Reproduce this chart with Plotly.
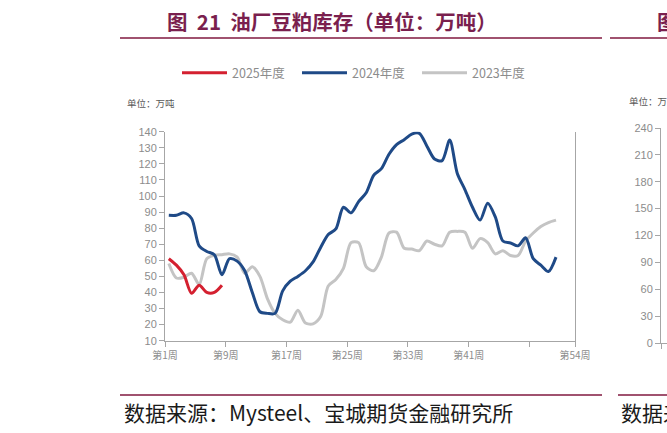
import plotly.graph_objects as go

# ---------------- data ----------------
weeks_2025 = list(range(1, 9))
stock_2025 = [61, 57, 51, 39.5, 44.5, 40, 40, 44.5]

weeks_2024 = list(range(1, 53))
stock_2024 = [88, 88, 89.5, 86, 69, 65.5, 63.5, 51, 61, 59.5,
              53.5, 40, 28, 27, 27, 41, 47, 50, 53.5, 59,
              68, 76, 79.5, 93, 89.5, 96.5, 102, 113, 117, 126,
              132, 135, 138.5, 139, 131, 123, 122, 134.8, 114, 104,
              93, 85, 95.5, 87, 72, 70.8, 69, 74, 61, 57,
              53, 62]

weeks_2023 = list(range(1, 53))
stock_2023 = [58, 49, 49.5, 52, 45, 61, 63, 63.5, 64, 62,
              52, 56, 50, 36, 27, 23, 21.5, 29, 21, 20.5,
              25, 44, 48, 55, 71, 71, 56, 53.5, 62, 77,
              77.5, 67.5, 67, 66, 72, 70, 69, 77.5, 78, 77.5,
              67.5, 73.5, 71, 64, 66, 63, 63, 72, 77, 81,
              83.5, 85]

tick_vals = [0.5, 8.5, 16.5, 24.5, 32.5, 40.5, 48.5, 54.5]
tick_text = ["第1周", "第9周", "第17周", "第25周", "第33周", "第41周", "", "第54周"]
y_ticks = list(range(10, 141, 10))

# neighbouring (cut-off) chart axis ticks
y2_ticks = list(range(0, 241, 30))

W, H = 667, 433
def px(x):
    return x / W
def py(y):
    return (H - y) / H

GRAY_TXT = "#8C8C8C"
AXIS = "#A6A6A6"
FONT = "Noto Sans CJK SC"

fig = go.Figure()
fig.add_trace(go.Scatter(x=weeks_2023, y=stock_2023, name="2023年度", mode="lines",
                         line=dict(color="#C4C4C4", width=3, shape="spline", smoothing=0.8)))
fig.add_trace(go.Scatter(x=weeks_2024, y=stock_2024, name="2024年度", mode="lines",
                         line=dict(color="#1F4A87", width=3, shape="spline", smoothing=0.8)))
fig.add_trace(go.Scatter(x=weeks_2025, y=stock_2025, name="2025年度", mode="lines",
                         line=dict(color="#D42030", width=3, shape="spline", smoothing=0.8)))

# invisible trace for the cut-off neighbouring chart axis
fig.add_trace(go.Scatter(x=[1], y=[0], xaxis="x2", yaxis="y2", mode="markers",
                         marker=dict(opacity=0), showlegend=False, hoverinfo="skip"))

fig.update_layout(
    width=W, height=H,
    margin=dict(l=0, r=0, t=0, b=0, autoexpand=False),
    paper_bgcolor="white", plot_bgcolor="white",
    font=dict(family=FONT, color=GRAY_TXT),
    showlegend=True,
    legend=dict(orientation="h", x=px(177), y=py(73), xanchor="left", yanchor="middle",
                font=dict(size=12.5, color=GRAY_TXT, family=FONT),
                traceorder="reversed", itemwidth=45,
                entrywidth=60, entrywidthmode="pixels",
                bgcolor="rgba(0,0,0,0)"),
    xaxis=dict(domain=[px(165), px(575)], range=[0.5, 54.5], automargin=False,
               tickmode="array", tickvals=tick_vals, ticktext=tick_text,
               showline=True, linecolor=AXIS, linewidth=1,
               ticks="outside", ticklen=5, tickcolor=AXIS,
               showgrid=False, zeroline=False,
               tickfont=dict(size=10, color=GRAY_TXT, family=FONT),
               anchor="y"),
    yaxis=dict(domain=[py(340.7), py(131.7)], range=[10, 140], automargin=False,
               tickmode="array", tickvals=y_ticks,
               showline=True, linecolor=AXIS, linewidth=1, mirror=True,
               ticks="outside", ticklen=5, tickcolor=AXIS,
               showgrid=False, zeroline=False,
               tickfont=dict(size=11, color=GRAY_TXT, family="Liberation Sans"),
               anchor="x"),
    xaxis2=dict(domain=[px(661), 1.0], range=[0.5, 54.5], automargin=False,
                tickmode="array", tickvals=[0.5], ticktext=["第1周"],
                showline=True, linecolor=AXIS, ticks="outside", ticklen=5, tickcolor=AXIS,
                showgrid=False, zeroline=False,
                tickfont=dict(size=10, color=GRAY_TXT, family=FONT),
                anchor="y2"),
    yaxis2=dict(domain=[py(343), py(128)], range=[0, 240], automargin=False,
                tickmode="array", tickvals=y2_ticks,
                showline=True, linecolor=AXIS, ticks="outside", ticklen=5, tickcolor=AXIS,
                showgrid=False, zeroline=False,
                tickfont=dict(size=11, color=GRAY_TXT, family="Liberation Sans"),
                anchor="x2"),
)

TITLE_C = "#7A1F4E"
LINE_C = "#A0526F"
shapes = [
    dict(type="line", xref="paper", yref="paper", x0=px(120), x1=px(602), y0=py(38), y1=py(38),
         line=dict(color=LINE_C, width=2)),
    dict(type="line", xref="paper", yref="paper", x0=px(610), x1=1.0, y0=py(38), y1=py(38),
         line=dict(color=LINE_C, width=2)),
    dict(type="line", xref="paper", yref="paper", x0=px(120), x1=px(602), y0=py(395), y1=py(395),
         line=dict(color=LINE_C, width=2)),
    dict(type="line", xref="paper", yref="paper", x0=px(618), x1=1.0, y0=py(395), y1=py(395),
         line=dict(color=LINE_C, width=2)),
]
fig.update_layout(shapes=shapes)

NB = "\u00a0"
title_txt = "图" + NB * 2 + "21" + NB * 2 + "油厂豆粕库存（单位：万吨）"
ann = [
    dict(text="<b>" + title_txt + "</b>", x=px(165), y=py(21), xanchor="left", yanchor="middle",
         font=dict(size=20.5, color=TITLE_C, family=FONT)),
    dict(text="<b>图</b>", x=px(655), y=py(21), xanchor="left", yanchor="middle",
         font=dict(size=20.5, color=TITLE_C, family=FONT)),
    dict(text="单位：万吨", x=px(125), y=py(103), xanchor="left", yanchor="middle",
         font=dict(size=9.5, color="#595959", family=FONT)),
    dict(text="单位：万吨", x=px(627), y=py(101), xanchor="left", yanchor="middle",
         font=dict(size=9.5, color="#595959", family=FONT)),
    dict(text="数据来源：Mysteel、宝城期货金融研究所", x=px(122), y=py(412), xanchor="left", yanchor="middle",
         font=dict(size=21, color="#1A1A1A", family=FONT)),
    dict(text="数据来源：Mysteel", x=px(619), y=py(412), xanchor="left", yanchor="middle",
         font=dict(size=21, color="#1A1A1A", family=FONT)),
]
for a in ann:
    a.update(xref="paper", yref="paper", showarrow=False)
fig.update_layout(annotations=ann)

fig.write_html("out.html", config={"displayModeBar": False},
               post_script="document.body.style.margin='0';document.body.style.overflow='hidden';")
